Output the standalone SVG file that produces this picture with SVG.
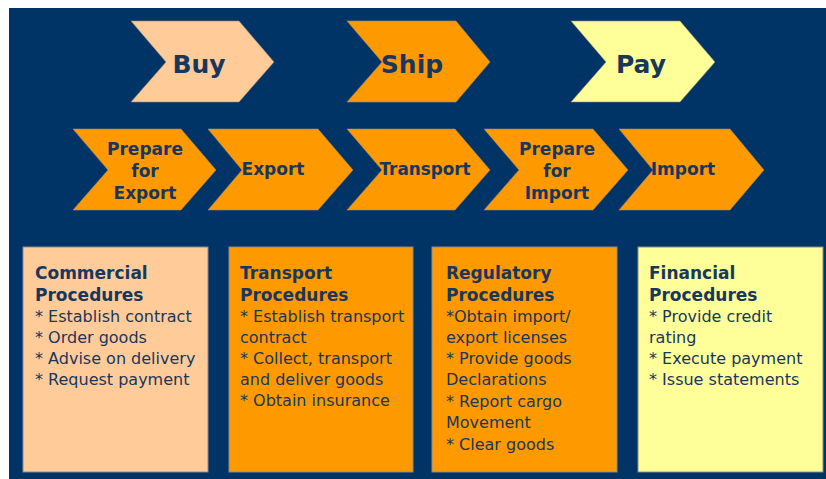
<svg xmlns="http://www.w3.org/2000/svg" width="826" height="479" viewBox="0 0 826 479">
<style>
.chev{stroke:#9a8a70;stroke-width:0.6}
.peach{fill:#FFCC99}
.orange{fill:#FF9900}
.yellow{fill:#FFFF99}
.big{font-family:"DejaVu Sans",Verdana,sans-serif;font-weight:bold;font-size:25px;fill:#17375E}
.mid{font-family:"DejaVu Sans",Verdana,sans-serif;font-weight:bold;font-size:17px;fill:#17375E}
.box{stroke:#8c8c8c;stroke-width:1}
.hd{font-family:"DejaVu Sans",Verdana,sans-serif;font-weight:bold;font-size:17px;fill:#17375E}
.bd{font-family:"DejaVu Sans",Verdana,sans-serif;font-size:16px;fill:#17375E}
</style>
<rect x="9" y="8" width="817" height="471" fill="#003366"/>
<g id="connectors"></g>
<g id="buy">
<polygon class="chev peach" points="131,21 239,21 274,62 239,102 131,102 166,62"/>
<text class="big" x="199" y="73" text-anchor="middle">Buy</text>
</g>
<g id="ship">
<polygon class="chev orange" points="347,21 456,21 490,62 456,102 347,102 382,62"/>
<text class="big" x="412" y="73" text-anchor="middle">Ship</text>
</g>
<g id="pay">
<polygon class="chev yellow" points="571,21 680,21 715,62 680,102 571,102 606,62"/>
<text class="big" x="641" y="73" text-anchor="middle">Pay</text>
</g>
<g id="prepare-export">
<polygon class="chev orange" points="73,129 181,129 216,170 181,210 73,210 108,170"/>
<text class="mid" x="145" y="155" text-anchor="middle">Prepare</text>
<text class="mid" x="145" y="177" text-anchor="middle">for</text>
<text class="mid" x="145" y="199" text-anchor="middle">Export</text>
</g>
<g id="export">
<polygon class="chev orange" points="208,129 318,129 353,170 318,210 208,210 242,170"/>
<text class="mid" x="273" y="175" text-anchor="middle">Export</text>
</g>
<g id="transport">
<polygon class="chev orange" points="347,129 455,129 490,170 455,210 347,210 382,170"/>
<text class="mid" x="425" y="175" text-anchor="middle" textLength="91" lengthAdjust="spacingAndGlyphs">Transport</text>
</g>
<g id="prepare-import">
<polygon class="chev orange" points="484,129 593,129 628,170 593,210 484,210 519,170"/>
<text class="mid" x="557" y="155" text-anchor="middle">Prepare</text>
<text class="mid" x="557" y="177" text-anchor="middle">for</text>
<text class="mid" x="557" y="199" text-anchor="middle">Import</text>
</g>
<g id="import">
<polygon class="chev orange" points="619,129 730,129 764,170 730,210 619,210 653,170"/>
<text class="mid" x="683" y="175" text-anchor="middle">Import</text>
</g>
<g id="commercial">
<rect class="box peach" x="23" y="247" width="185" height="225"/>
<text class="hd" x="35" y="279">Commercial</text>
<text class="hd" x="35" y="301">Procedures</text>
<text class="bd" x="35" y="322">* Establish contract</text>
<text class="bd" x="35" y="343">* Order goods</text>
<text class="bd" x="35" y="364">* Advise on delivery</text>
<text class="bd" x="35" y="385">* Request payment</text>
</g>
<g id="transport-proc">
<rect class="box orange" x="229" y="247" width="184" height="225"/>
<text class="hd" x="240" y="279">Transport</text>
<text class="hd" x="240" y="301">Procedures</text>
<text class="bd" x="240" y="322">* Establish transport</text>
<text class="bd" x="240" y="343">contract</text>
<text class="bd" x="240" y="364">* Collect, transport</text>
<text class="bd" x="240" y="385">and deliver goods</text>
<text class="bd" x="240" y="406">* Obtain insurance</text>
</g>
<g id="regulatory">
<rect class="box orange" x="432" y="247" width="185" height="225"/>
<text class="hd" x="446" y="279">Regulatory</text>
<text class="hd" x="446" y="301">Procedures</text>
<text class="bd" x="446" y="322">*Obtain import/</text>
<text class="bd" x="446" y="343">export licenses</text>
<text class="bd" x="446" y="364">* Provide goods</text>
<text class="bd" x="446" y="385">Declarations</text>
<text class="bd" x="446" y="407">* Report cargo</text>
<text class="bd" x="446" y="428">Movement</text>
<text class="bd" x="446" y="450">* Clear goods</text>
</g>
<g id="financial">
<rect class="box yellow" x="638" y="247" width="185" height="225"/>
<text class="hd" x="649" y="279">Financial</text>
<text class="hd" x="649" y="301">Procedures</text>
<text class="bd" x="649" y="322">* Provide credit</text>
<text class="bd" x="649" y="343">rating</text>
<text class="bd" x="649" y="364">* Execute payment</text>
<text class="bd" x="649" y="385">* Issue statements</text>
</g>
</svg>
